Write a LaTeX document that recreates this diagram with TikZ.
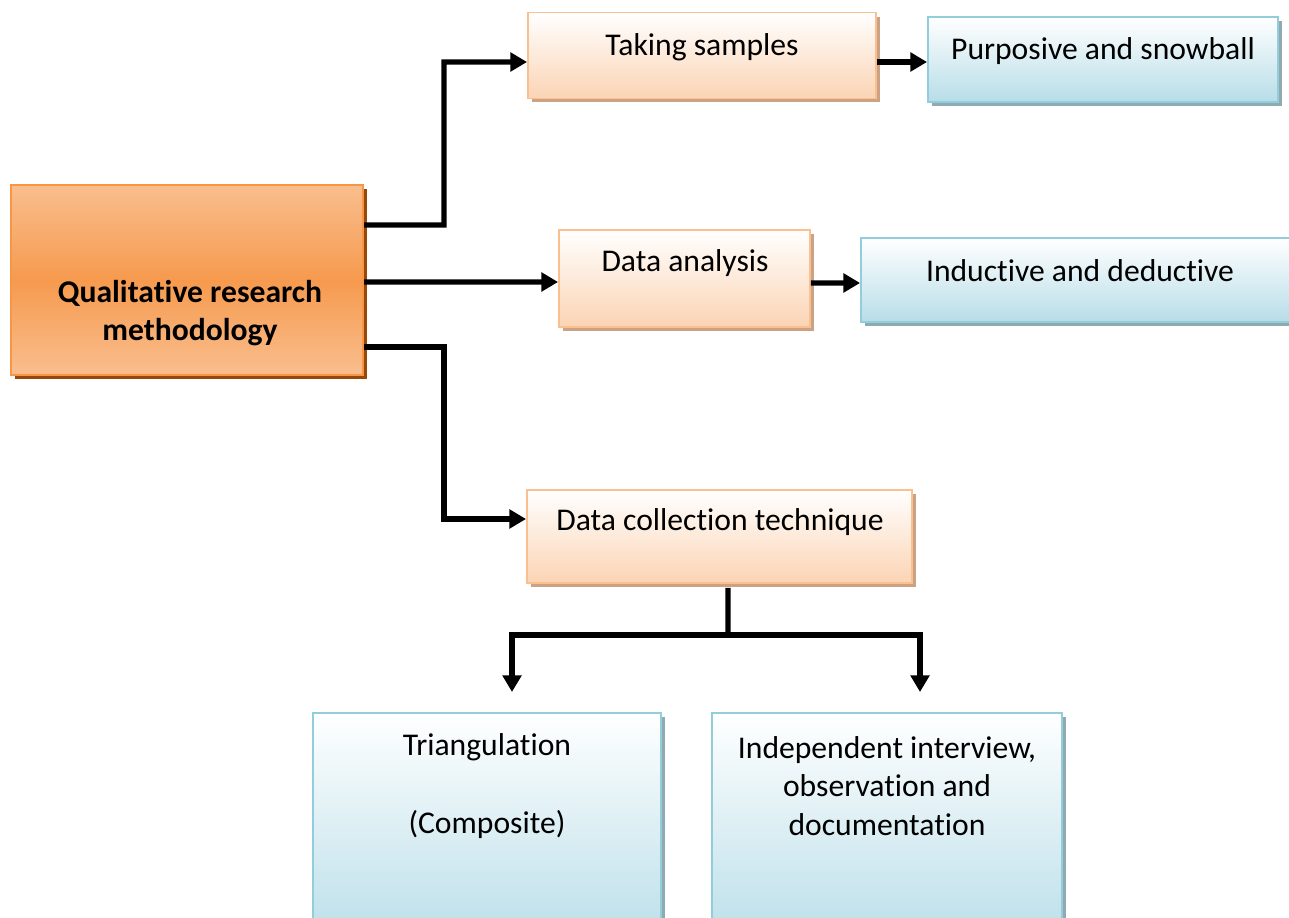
\documentclass[tikz,border=0pt]{standalone}
\usepackage{fontspec}
\setmainfont{Carlito}[Ligatures={NoCommon}]
\usetikzlibrary{arrows.meta,calc,shadows,positioning}

\definecolor{orangeline}{HTML}{F79646}
\definecolor{orangetop}{HTML}{F9BE8E}
\definecolor{orangemid}{HTML}{F69A4E}
\definecolor{orangedark}{HTML}{984807}
\definecolor{peachline}{HTML}{FAC08F}
\definecolor{peachfill}{HTML}{FBD4B4}
\definecolor{peachshadow}{HTML}{CBA283}
\definecolor{blueline}{HTML}{92CDDC}
\definecolor{bluefill}{HTML}{B7DDE8}
\definecolor{blueshadow}{HTML}{8FAAB0}

\tikzset{
  labeltext/.style={font=\fontsize{18}{22}\selectfont, align=center, inner sep=0pt},
  mainbox/.style={draw=orangeline, line width=1.4pt, top color=orangetop, bottom color=orangetop,
    middle color=orangemid, minimum width=7.04cm, minimum height=3.8cm,
    drop shadow={shadow xshift=0.08cm, shadow yshift=-0.08cm, fill=orangedark, opacity=1}},
  peachbox/.style={draw=peachline, line width=1.1pt, top color=white, bottom color=peachfill,
    minimum height=1.72cm,
    drop shadow={shadow xshift=0.08cm, shadow yshift=-0.08cm, fill=peachshadow, opacity=1}},
  bluebox/.style={draw=blueline, line width=1.1pt, top color=white, bottom color=bluefill,
    drop shadow={shadow xshift=0.08cm, shadow yshift=-0.08cm, fill=blueshadow, opacity=1}},
  conn/.style={line width=3.1pt, -{Triangle[length=9.5pt,width=10.5pt]}},
  trunk/.style={line width=3.1pt}
}

\begin{document}
\begin{tikzpicture}[x=0.02cm,y=-0.02cm]
    \useasboundingbox (0,0) rectangle (1289,918);
    \clip (0,0) rectangle (1289,918);

    \node[mainbox] (method) at (187,280) {};
    \node[peachbox, minimum width=6.96cm] (samples) at (702,55.5) {};
    \node[bluebox, minimum width=7cm, minimum height=1.7cm] (purposive) at (1103,59.5) {};
    \node[peachbox, minimum width=5.02cm, minimum height=1.94cm] (analysis) at (684.5,278.5) {};
    \node[bluebox, minimum width=8.76cm, minimum height=1.68cm] (inductive) at (1080,280) {};
    \node[peachbox, minimum width=7.7cm, minimum height=1.86cm] (collect) at (719.5,536.5) {};
    \node[bluebox, minimum width=6.96cm, minimum height=4.8cm] (triang) at (487,833) {};
    \node[bluebox, minimum width=7cm, minimum height=4.8cm] (interview) at (887,833) {};

    \node[labeltext, font=\fontsize{18}{22}\selectfont\bfseries] (methodtxt) at (190,313)
        {Qualitative research\\methodology};
    \node[labeltext] (samplestxt) at (702,47) {Taking samples};
    \node[labeltext] (purposivetxt) at (1103,51) {Purposive and snowball};
    \node[labeltext] (analysistxt) at (685,263) {Data analysis};
    \node[labeltext] (inductivetxt) at (1080,271) {Inductive and deductive};
    \node[labeltext] (collecttxt) at (720,522) {Data collection technique};
    \node[labeltext] (triangtxt) at (487,786) {Triangulation\\[22pt](Composite)};
    \node[labeltext] (interviewtxt) at (887,786)
        {Independent interview,\\observation and\\documentation};

    \coordinate (fork) at (728,635);
    \coordinate (lefttip) at (512,692);
    \coordinate (righttip) at (920,692);

    \draw[conn] ($(method.east)+(0,-55)$) -| (444,62) -- ($(samples.west)+(0,6.5)$);
    \draw[conn] ($(method.east)+(0,2)$) -- ($(analysis.west)+(0,3.5)$);
    \draw[conn] ($(method.east)+(0,67)$) -| (444,519) -- ($(collect.west)+(0,-17.5)$);
    \draw[conn] ($(samples.east)+(0,6.5)$) -- ($(purposive.west)+(0,2.5)$);
    \draw[conn] ($(analysis.east)+(0,4.5)$) -- ($(inductive.west)+(0,3)$);
    \draw[trunk] ($(collect.south)+(8.5,4)$) -- (fork);
    \draw[conn] (fork) -| (lefttip);
    \draw[conn] (fork) -| (righttip);
\end{tikzpicture}
\end{document}
